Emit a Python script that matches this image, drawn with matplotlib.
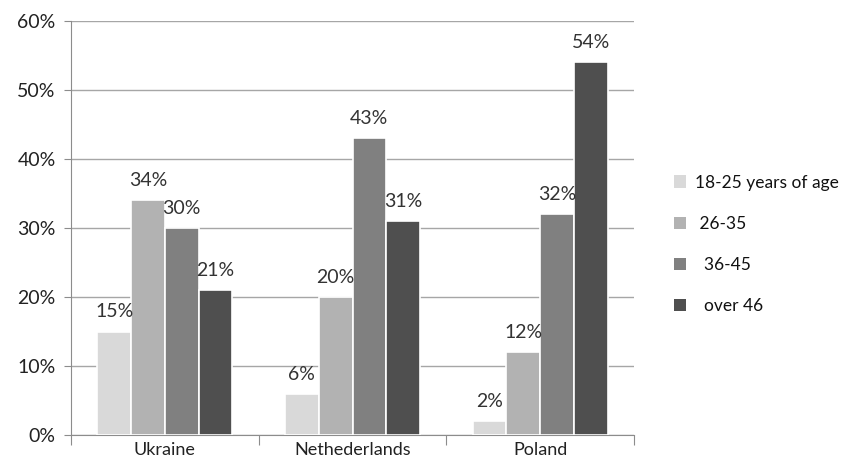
import matplotlib
matplotlib.use("Agg")
import matplotlib.pyplot as plt
import numpy as np
from matplotlib.patches import Patch

countries = ["Ukraine", "Nethederlands", "Poland"]
series_names = ["18-25 years of age", " 26-35", "  36-45", "  over 46"]
age_18_25 = [15, 6, 2]
age_26_35 = [34, 20, 12]
age_36_45 = [30, 43, 32]
age_over46 = [21, 31, 54]
yticks = [0, 10, 20, 30, 40, 50, 60]

series = [age_18_25, age_26_35, age_36_45, age_over46]
colors = ["#d9d9d9", "#b2b2b2", "#808080", "#4f4f4f"]

plt.rcParams['font.family'] = ['Lato', 'DejaVu Sans']

fig = plt.figure(figsize=(8.5, 4.61), dpi=100)
ax = fig.add_axes([71/850, 1-435/461, (634-71)/850, (435-21)/461])

x = np.arange(len(countries))
w = 0.18
for i, vals in enumerate(series):
    pos = x + (i - 1.5) * w
    bars = ax.bar(pos, vals, width=w, color=colors[i], edgecolor="white",
                  linewidth=1.2, zorder=3)
    for b, v in zip(bars, vals):
        ax.text(b.get_x() + b.get_width()/2, v + 1.6, f"{v}%", ha="center",
                va="bottom", fontsize=14, color="#333333", zorder=4)

ax.set_xlim(-0.5, 2.5)
ax.set_ylim(0, 60)
ax.set_yticks(yticks)
ax.set_yticklabels([f"{t}%" for t in yticks], fontsize=14, color="#222222")
ax.yaxis.grid(True, color="#a6a6a6", linewidth=1, zorder=0)
ax.set_axisbelow(True)

ax.set_xticks([-0.5, 0.5, 1.5, 2.5])
ax.set_xticklabels([])
ax.set_xticks(x, minor=True)
ax.set_xticklabels(countries, minor=True, fontsize=13, color="#222222")
ax.tick_params(axis="x", which="minor", length=0, pad=5)
ax.tick_params(axis="x", which="major", length=7, color="#8c8c8c", direction="out")
ax.tick_params(axis="y", length=5, color="#8c8c8c", pad=6)

for s in ["top", "right"]:
    ax.spines[s].set_visible(False)
for s in ["left", "bottom"]:
    ax.spines[s].set_color("#8c8c8c")

handles = [Patch(facecolor=c, edgecolor="none") for c in colors]
fig.legend(handles, series_names, loc="upper left",
           bbox_to_anchor=(658/850, 1-159/461), frameon=False,
           fontsize=12.5, handlelength=0.7, handleheight=0.7,
           labelspacing=1.45, handletextpad=0.55, labelcolor="#111111")

fig.savefig("out.png", dpi=100)
